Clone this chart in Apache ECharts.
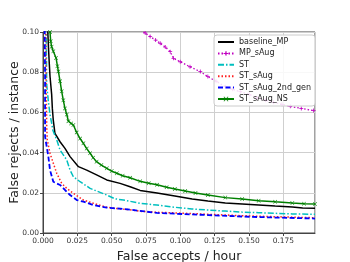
<!DOCTYPE html>
<html><head><meta charset="utf-8">
<script src="https://cdn.jsdelivr.net/npm/echarts@6/dist/echarts.min.js"></script>
<style>html,body{margin:0;padding:0;background:#fff}#c{width:350px;height:262px}</style>
</head><body><div id="c"></div>
<script>
const seriesNames = ["baseline_MP","MP_sAug","ST","ST_sAug","ST_sAug_2nd_gen","ST_sAug_NS"];
const xTicks = [0, 0.025, 0.05, 0.075, 0.1, 0.125, 0.15, 0.175];
const yTicks = [0, 0.02, 0.04, 0.06, 0.08, 0.1];

const baselineMP = [[0.0030,0.12],[0.0035,0.100],[0.0040,0.092],[0.0046,0.084],[0.0051,0.078],[0.0063,0.069],[0.0068,0.062],[0.0075,0.056],[0.0087,0.0496],[0.0124,0.0454],[0.016,0.0421],[0.0197,0.038],[0.0258,0.033],[0.0318,0.0313],[0.039,0.0289],[0.0464,0.0264],[0.0561,0.0247],[0.0634,0.023],[0.0707,0.0212],[0.083,0.0199],[0.096,0.0184],[0.1086,0.0169],[0.12,0.0159],[0.1327,0.0149],[0.145,0.0144],[0.157,0.0139],[0.169,0.0134],[0.1815,0.0129],[0.189,0.0124],[0.198,0.0123]];
const mpSAug = [[0.071,0.101],[0.0744,0.0995],[0.078,0.0977],[0.082,0.0960],[0.0853,0.0944],[0.089,0.0925],[0.0926,0.0902],[0.095,0.0869],[0.0999,0.0852],[0.107,0.0827],[0.1145,0.0803],[0.12,0.0778],[0.126,0.0755],[0.1327,0.0728],[0.138,0.0715],[0.1436,0.0703],[0.15,0.0690],[0.1558,0.0672],[0.162,0.0660],[0.1677,0.0650],[0.174,0.0640],[0.18,0.0630],[0.188,0.0620],[0.197,0.0609]];
const st = [[0.0020,0.12],[0.0024,0.095],[0.0027,0.0738],[0.0039,0.0655],[0.0051,0.0589],[0.0065,0.0539],[0.0071,0.0512],[0.01,0.0463],[0.0124,0.0413],[0.0173,0.0363],[0.0197,0.0313],[0.0221,0.028],[0.027,0.0255],[0.0343,0.0222],[0.0464,0.0189],[0.0525,0.0170],[0.0585,0.0164],[0.0707,0.0148],[0.0829,0.0139],[0.096,0.0128],[0.1084,0.0120],[0.1205,0.0114],[0.1327,0.0109],[0.1448,0.0104],[0.157,0.0101],[0.169,0.0098],[0.1813,0.0095],[0.198,0.0093]];
const stSAug = [[0.0018,0.12],[0.0022,0.08],[0.0027,0.0529],[0.0031,0.0463],[0.0051,0.0397],[0.0075,0.0347],[0.01,0.0297],[0.0136,0.0247],[0.0173,0.0222],[0.0221,0.0197],[0.0294,0.0164],[0.0367,0.0148],[0.0464,0.0128],[0.0561,0.0120],[0.0634,0.0116],[0.0707,0.0108],[0.0829,0.0103],[0.096,0.0100],[0.1205,0.0093],[0.1448,0.0086],[0.169,0.0081],[0.198,0.0076]];
const stSAug2 = [[0.0010,0.12],[0.0015,0.08],[0.0015,0.0479],[0.0039,0.038],[0.0051,0.0313],[0.0075,0.0255],[0.0124,0.0239],[0.016,0.0214],[0.0197,0.0189],[0.0246,0.0164],[0.0294,0.0156],[0.0367,0.0139],[0.0464,0.0126],[0.0561,0.0121],[0.0634,0.0116],[0.0829,0.0100],[0.096,0.0096],[0.1205,0.0089],[0.1448,0.0082],[0.169,0.0077],[0.198,0.0072]];
const stSAugNS = [[0.0048,0.105],[0.0051,0.1],[0.0056,0.0954],[0.0063,0.0927],[0.0075,0.0904],[0.0095,0.0871],[0.0105,0.0830],[0.0112,0.0804],[0.0124,0.0755],[0.0136,0.0705],[0.0148,0.0660],[0.0160,0.0620],[0.0173,0.0589],[0.0185,0.0556],[0.0205,0.0545],[0.0221,0.0537],[0.0245,0.0500],[0.027,0.0470],[0.0294,0.0446],[0.0318,0.0420],[0.0343,0.0397],[0.0365,0.0375],[0.039,0.0355],[0.0425,0.0338],[0.0464,0.0322],[0.050,0.0308],[0.0537,0.0297],[0.058,0.0285],[0.0634,0.0275],[0.0707,0.0257],[0.077,0.0248],[0.083,0.0240],[0.090,0.0228],[0.096,0.0219],[0.1035,0.0209],[0.111,0.0199],[0.12,0.0189],[0.1327,0.0176],[0.145,0.0169],[0.157,0.0161],[0.169,0.0155],[0.1815,0.0149],[0.190,0.0146],[0.198,0.0144]];

const X_SYM = 'path://M0,1L1,0L5,4L9,0L10,1L6,5L10,9L9,10L5,6L1,10L0,9L4,5Z';
const PLUS_SYM = 'path://M4,0L6,0L6,4L10,4L10,6L6,6L6,10L4,10L4,6L0,6L0,4L4,4Z';
const hasMarker = [false, true, false, false, false, true];

const chart = echarts.init(document.getElementById('c'), null, {renderer:'canvas'});
const font = 'DejaVu Sans';
function line(name, data, color, type, width, sym, symSize){
  return {name, type:'line', data, clip:true, showSymbol: !!sym, symbol: sym || 'none', symbolSize: symSize || 0,
    itemStyle:{color}, lineStyle:{color, type, width}, animation:false, z: 2};
}
chart.setOption({
  animation:false,
  textStyle:{fontFamily:font},
  grid:{left:43, right:35, top:32, bottom:29, outerBoundsMode:'none', containLabel:false,
    show:true, borderColor:'#444', borderWidth:1, backgroundColor:'#fff'},
  xAxis:{type:'value', min:0, max:0.198, interval:0.025,
    axisLine:{show:true, lineStyle:{color:'#444', width:1}},
    axisTick:{show:true, length:3, lineStyle:{color:'#444'}},
    splitLine:{show:true, lineStyle:{color:'#cfcfcf', width:1}},
    axisLabel:{fontSize:7.5, color:'#333', margin:4, showMaxLabel:false,
      formatter: v => xTicks.some(t=>Math.abs(t-v)<1e-9) ? v.toFixed(3) : ''},
    name:'False accepts / hour', nameLocation:'middle', nameGap:17, nameMoveOverlap:false,
    nameTextStyle:{fontSize:12.5, color:'#222', fontFamily:font}},
  yAxis:{type:'value', min:0, max:0.1, interval:0.02,
    axisLine:{show:true, lineStyle:{color:'#444', width:1}},
    axisTick:{show:true, length:3, lineStyle:{color:'#444'}},
    splitLine:{show:true, lineStyle:{color:'#cfcfcf', width:1}},
    axisLabel:{fontSize:7.5, color:'#333', margin:4,
      formatter: v => yTicks.some(t=>Math.abs(t-v)<1e-9) ? v.toFixed(2) : ''},
    name:'False rejects / instance', nameLocation:'middle', nameGap:22, nameMoveOverlap:false,
    nameTextStyle:{fontSize:12.5, color:'#222', fontFamily:font}},
  legend:{orient:'vertical', left:214, top:35,
    data: seriesNames.map((n,i)=> hasMarker[i] ? {name:n} : {name:n, itemStyle:{opacity:0}}),
    backgroundColor:'rgba(255,255,255,0.85)', borderColor:'#ccc', borderWidth:1, borderRadius:3,
    padding:[3,4,3,3], itemWidth:16, itemHeight:6, itemGap:3.4,
    textStyle:{fontSize:8, color:'#222', fontFamily:font}},
  series:[
    line(seriesNames[0], baselineMP, '#000000', 'solid', 1.5),
    line(seriesNames[1], mpSAug, '#c000c0', [1.5,2], 1.3, PLUS_SYM, 4),
    line(seriesNames[2], st, '#00bfbf', [6,2,1.5,2], 1.5),
    line(seriesNames[3], stSAug, '#ff2020', [1.5,2], 1.5),
    line(seriesNames[4], stSAug2, '#0000ff', [5,2.5], 1.8),
    line(seriesNames[5], stSAugNS, '#008000', 'solid', 1.5, X_SYM, 4)
  ]
});
</script></body></html>
